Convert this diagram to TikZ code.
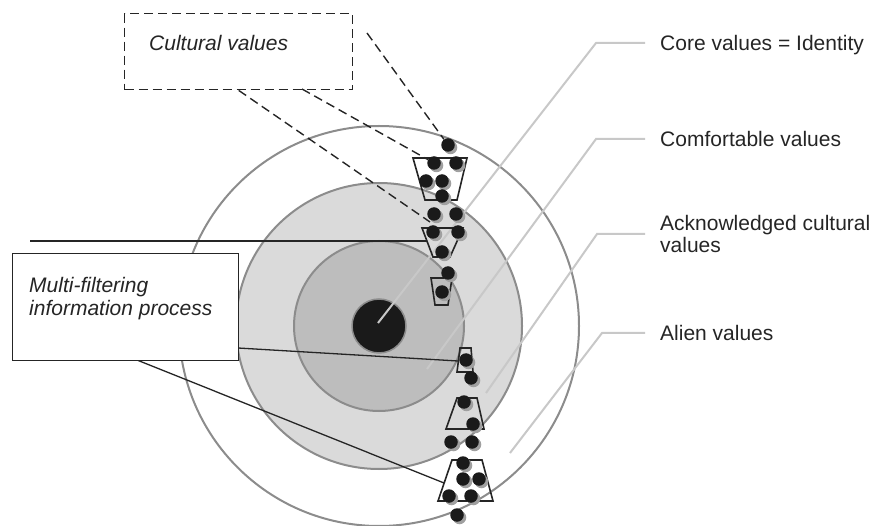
\documentclass[tikz,border=0pt]{standalone}
\usepackage{fontspec}
\setmainfont{Liberation Sans}
\usetikzlibrary{shadows}
\definecolor{ringlight}{HTML}{DADADA}
\definecolor{ringdark}{HTML}{BDBDBD}
\definecolor{corefill}{HTML}{1A1A1A}
\definecolor{rimgray}{HTML}{8C8C8C}
\definecolor{leadgray}{HTML}{C8C8C8}
\definecolor{shadegray}{HTML}{A0A0A0}
\definecolor{inkgray}{HTML}{252525}

\begin{document}
\begin{tikzpicture}[x=1pt,y=-1pt,
    vallabel/.style={font=\fontsize{21}{21.5}\selectfont,inner sep=0pt,anchor=west,text=inkgray},
    oneline/.style={text height=15pt,text depth=0pt},
    leader/.style={draw=leadgray,line width=2pt},
    link/.style={draw=inkgray,line width=1.3pt},
    cvlink/.style={draw=inkgray,line width=1.4pt,dash pattern=on 9pt off 5pt},
    filterbox/.style={draw=inkgray,line width=1.6pt,line join=miter},
    valdot/.style={circle,fill=\DOTCOLOR,inner sep=0pt,minimum size=13.5pt,
        drop shadow={shadow xshift=2.5pt,shadow yshift=-2.5pt,fill=\SHADECOLOR,opacity=1}}]

\def\DOTCOLOR{corefill}
\def\SHADECOLOR{shadegray}
\def\RIMCOLOR{rimgray}
    \useasboundingbox (0,0) rectangle (875,526);

    % rings
    \coordinate (ctr) at (379,326);
    \filldraw[fill=white,draw=\RIMCOLOR,line width=2pt] (ctr) circle[radius=200pt];
    \filldraw[fill=ringlight,draw=\RIMCOLOR,line width=2pt] (ctr) circle[radius=143pt];
    \filldraw[fill=ringdark,draw=\RIMCOLOR,line width=2pt] (ctr) circle[radius=85pt];
    \filldraw[fill=corefill,draw=\RIMCOLOR,line width=1.5pt] (ctr) circle[radius=27pt];

    % labels on the right
    \node[vallabel,oneline] (lblcore) at (660,43) {Core values = Identity};
    \node[vallabel,oneline] (lblcomf) at (660,139) {Comfortable values};
    \node[vallabel,align=left] (lblack) at (660,234) {Acknowledged cultural\\values};
    \node[vallabel,oneline] (lblalien) at (660,333) {Alien values};

    \coordinate (corept) at (378,323);
    \coordinate (comfpt) at (427,369);
    \coordinate (ackpt) at (486,393);
    \coordinate (alienpt) at (510,453);
    \draw[leader] (corept) -- (596,43) -- ([xshift=-15pt]lblcore.west);
    \draw[leader] (comfpt) -- (596,139) -- ([xshift=-15pt]lblcomf.west);
    \draw[leader] (ackpt) -- (597,234) -- ([xshift=-15pt]lblack.west);
    \draw[leader] (alienpt) -- (602,333) -- ([xshift=-15pt]lblalien.west);

    % boxes
    \node[draw=inkgray,line width=1.4pt,dash pattern=on 9pt off 5pt,
        minimum width=228pt,minimum height=76pt,anchor=north west] (cvbox) at (124,13) {};
    \node[vallabel,oneline,font=\fontsize{21}{21.5}\selectfont\itshape] (cvtext) at (149,43) {Cultural values};
    \coordinate (cvbottwo) at (302,89);
    \coordinate (cvfree) at (367,33);
    \coordinate (ftwotop) at (430,222);

    \coordinate (mfleft) at (30,241);
    \coordinate (ftwoin) at (427,241);
    \coordinate (mfright) at (238,348);
    \coordinate (ffourin) at (458,361);
    \coordinate (mfbot) at (137,360);
    \coordinate (fsixin) at (444,483);
    \draw[link] (mfleft) -- (ftwoin);
    \draw[link] (mfright) -- (ffourin);
    \draw[link] (mfbot) -- (fsixin);

    % filters
    \draw[filterbox] (413,158) -- (467,158) -- (457,200) -- (425,200) -- cycle;
    \draw[filterbox] (422,228) -- (463,228) -- (450,257) -- (433,257) -- cycle;
    \draw[filterbox] (431,278) -- (452,278) -- (448,305) -- (435,305) -- cycle;
    \draw[filterbox] (460,348) -- (471,348) -- (473,372) -- (457,372) -- cycle;
    \draw[filterbox] (457,398) -- (477,398) -- (484,429) -- (446,429) -- cycle;
    \draw[filterbox] (452,460) -- (482,460) -- (493,501) -- (438,501) -- cycle;

    % values passing through
    \node[valdot] (d1) at (448,145) {};
    \node[valdot] (d2) at (434,163) {};
    \node[valdot] (d3) at (456,163) {};
    \node[valdot] (d4) at (426,181) {};
    \node[valdot] (d5) at (442,181) {};
    \node[valdot] (d6) at (442,196) {};
    \node[valdot] (d7) at (434,214) {};
    \node[valdot] (d8) at (456,214) {};
    \node[valdot] (d9) at (433,232) {};
    \node[valdot] (d10) at (458,232) {};
    \node[valdot] (d11) at (442,252) {};
    \node[valdot] (d12) at (448,273) {};
    \node[valdot] (d13) at (442,292) {};
    \node[valdot] (d14) at (466,360) {};
    \node[valdot] (d15) at (471,378) {};
    \node[valdot] (d16) at (464,402) {};
    \node[valdot] (d17) at (473,424) {};
    \node[valdot] (d18) at (451,442) {};
    \node[valdot] (d19) at (472,442) {};
    \node[valdot] (d20) at (463,463) {};
    \node[valdot] (d21) at (463,479) {};
    \node[valdot] (d22) at (479,479) {};
    \node[valdot] (d23) at (449,496) {};
    \node[valdot] (d24) at (471,496) {};
    \node[valdot] (d25) at (457,515) {};

    \draw[cvlink] (cvbox.south) -- (ftwotop);
    \draw[cvlink] (cvbottwo) -- (d2);
    \draw[cvlink] (cvfree) -- (d1);

    \node[draw=inkgray,fill=white,line width=1.3pt,
        minimum width=226pt,minimum height=107pt,anchor=north west] (mfbox) at (12,253) {};
    \node[font=\fontsize{21}{23}\selectfont\itshape,text=inkgray,inner sep=0pt,
        align=left,anchor=north west] (mftext) at (29,277) {Multi-filtering\\information process};

\end{tikzpicture}
\end{document}
